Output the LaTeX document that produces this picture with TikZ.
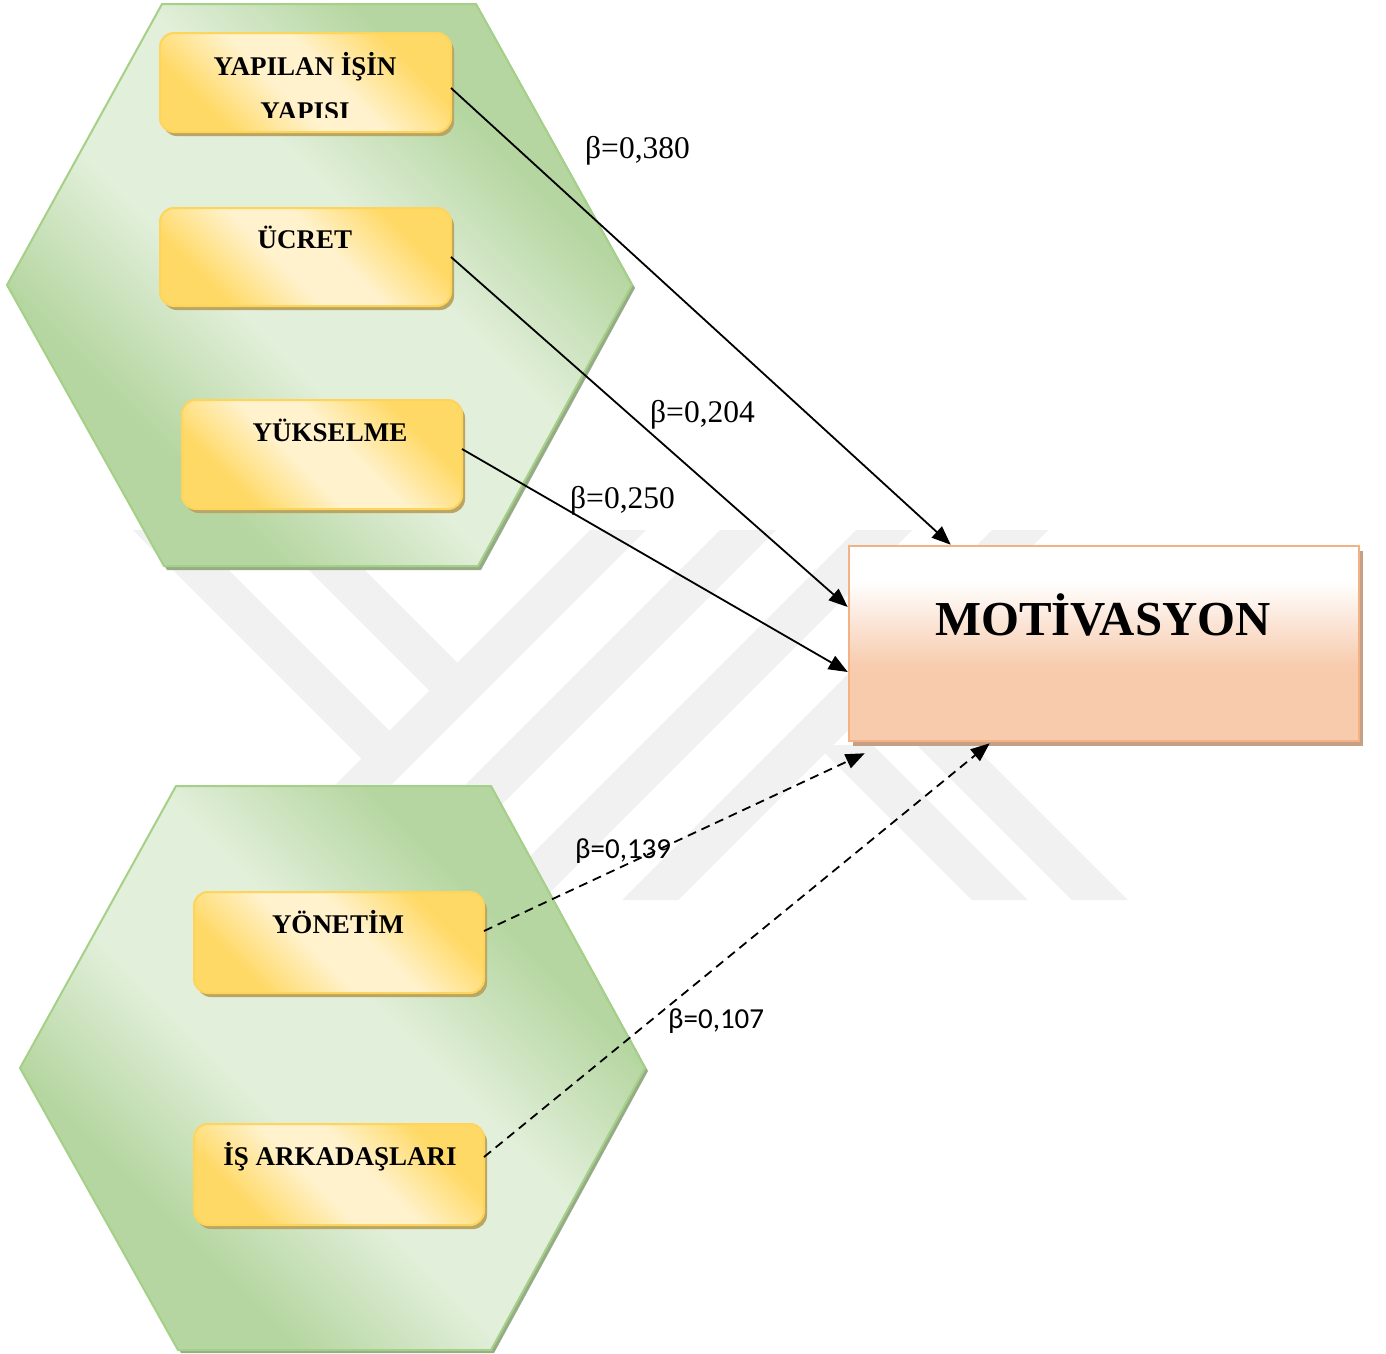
\documentclass[tikz,border=0pt]{standalone}
\usepackage{fontspec}
\setmainfont{Liberation Serif}
\newfontfamily\calibrifont{Carlito}
\usetikzlibrary{arrows.meta,shadows,calc}

\definecolor{gdk}{RGB}{181,214,160}
\definecolor{glt}{RGB}{226,239,218}
\definecolor{gline}{RGB}{165,208,135}
\definecolor{gshadow}{RGB}{150,172,135}
\definecolor{ydk}{RGB}{255,217,102}
\definecolor{ylt}{RGB}{255,242,204}
\definecolor{yline}{RGB}{255,212,90}
\definecolor{yshadow}{RGB}{185,165,100}
\definecolor{pk}{RGB}{247,203,172}
\definecolor{pkl}{RGB}{251,228,213}
\definecolor{pline}{RGB}{244,177,131}
\definecolor{pshadow}{RGB}{196,160,134}
\definecolor{wm}{RGB}{241,241,241}

\pgfdeclarehorizontalshading{greenrefl}{100bp}{color(0bp)=(gdk); color(32bp)=(gdk); color(44bp)=(glt); color(56bp)=(glt); color(68bp)=(gdk); color(100bp)=(gdk)}
\pgfdeclarehorizontalshading{yellowrefl}{100bp}{color(0bp)=(ydk); color(35bp)=(ydk); color(46bp)=(ylt); color(54bp)=(ylt); color(65bp)=(ydk); color(100bp)=(ydk)}
\pgfdeclareverticalshading{peachv}{100bp}{color(0bp)=(pk); color(44bp)=(pk); color(55bp)=(pkl); color(66bp)=(white); color(100bp)=(white)}

\newcommand\bxfont{\fontsize{27}{32}\selectfont\bfseries}
\newcommand\betafont{\fontsize{31.5}{37}\selectfont}
\newcommand\betasans{\calibrifont\fontsize{29}{35}\selectfont}

\tikzset{
  ybox/.style={fill=ylt, draw=none, rounded corners=14pt, inner sep=0pt, outer sep=0pt,
    drop shadow={shadow xshift=3pt, shadow yshift=-4pt, fill=yshadow, opacity=1}},
  yshd/.style={shading=yellowrefl, shading angle=45},
  yborder/.style={draw=yline, line width=2pt, rounded corners=14pt},
  mbox/.style={draw=pline, line width=2.5pt, shade, shading=peachv, inner sep=0pt,
    minimum width=510pt, minimum height=195pt,
    drop shadow={shadow xshift=4pt, shadow yshift=-5pt, fill=pshadow, opacity=1}},
  gshd/.style={shading=greenrefl, shading angle=45},
  hexline/.style={draw=gline, line width=2pt},
  hexshadow/.style={fill=gshadow},
  lbl/.style={anchor=base, inner sep=0pt, font=\bxfont},
  blbl/.style={anchor=base west, inner sep=0pt, font=\betafont},
  slbl/.style={anchor=base west, inner sep=0pt, font=\betasans},
  arr/.style={line width=1.8pt, -{Triangle[length=19pt,width=15pt]}},
  darr/.style={arr, dash pattern=on 9pt off 6pt},
  mark wm/.style={fill=wm}
}

\begin{document}
\begin{tikzpicture}[x=1pt,y=-1pt]
\useasboundingbox (0,0) rectangle (1386,1353);
\fill[white] (0,0) rectangle (1386,1353);

% watermark
\fill[mark wm] (590,530) -- (646,530) -- (276,900) -- (220,900) -- cycle;
\fill[mark wm] (720,530) -- (776,530) -- (406,900) -- (350,900) -- cycle;
\fill[mark wm] (856,530) -- (912,530) -- (542,900) -- (486,900) -- cycle;
\fill[mark wm] (992,530) -- (1048,530) -- (678,900) -- (622,900) -- cycle;
\fill[mark wm] (133,530) -- (189,530) -- (403.5,744.5) -- (375.5,772.5) -- cycle;
\fill[mark wm] (269,530) -- (325,530) -- (471.5,676.5) -- (443.5,704.5) -- cycle;
\fill[mark wm] (817,745) -- (873,745) -- (1028,900) -- (972,900) -- cycle;
\fill[mark wm] (917,745) -- (973,745) -- (1128,900) -- (1072,900) -- cycle;

% upper hexagon
\fill[hexshadow] (165,8) -- (479,8) -- (635,288) -- (481,570) -- (167,570) -- (10,288) -- cycle;
\begin{scope}
  \clip (162,4) -- (476,4) -- (632,285) -- (478,566) -- (164,566) -- (7,285) -- cycle;
  \shade[gshd] (7,-27.5) rectangle (632,597.5);
\end{scope}
\draw[hexline] (162,4) -- (476,4) -- (632,285) -- (478,566) -- (164,566) -- (7,285) -- cycle;

% lower hexagon
\fill[hexshadow] (179,790) -- (494,790) -- (648,1071) -- (494,1353) -- (181,1353) -- (23,1071) -- cycle;
\begin{scope}
  \clip (176,786) -- (491,786) -- (645,1068) -- (491,1350) -- (178,1350) -- (20,1068) -- cycle;
  \shade[gshd] (20,755.5) rectangle (645,1380.5);
\end{scope}
\draw[hexline] (176,786) -- (491,786) -- (645,1068) -- (491,1350) -- (178,1350) -- (20,1068) -- cycle;

% factor boxes
\node[ybox, minimum width=291pt, minimum height=99pt] (b1) at (305.5,82.5) {};
\node[ybox, minimum width=291pt, minimum height=98pt] (b2) at (305.5,257) {};
\node[ybox, minimum width=280pt, minimum height=109pt] (b3) at (322,454.5) {};
\node[ybox, minimum width=290pt, minimum height=101pt] (b4) at (339,942.5) {};
\node[ybox, minimum width=290pt, minimum height=101pt] (b5) at (339,1174.5) {};

\begin{scope}
  \clip[rounded corners=14pt] (b1.south west) rectangle (b1.north east);
  \shade[yshd] ($(b1.center)+(-145.5,-145.5)$) rectangle ($(b1.center)+(145.5,145.5)$);
\end{scope}
\begin{scope}
  \clip[rounded corners=14pt] (b2.south west) rectangle (b2.north east);
  \shade[yshd] ($(b2.center)+(-145.5,-145.5)$) rectangle ($(b2.center)+(145.5,145.5)$);
\end{scope}
\begin{scope}
  \clip[rounded corners=14pt] (b3.south west) rectangle (b3.north east);
  \shade[yshd] ($(b3.center)+(-140,-140)$) rectangle ($(b3.center)+(140,140)$);
\end{scope}
\begin{scope}
  \clip[rounded corners=14pt] (b4.south west) rectangle (b4.north east);
  \shade[yshd] ($(b4.center)+(-145,-145)$) rectangle ($(b4.center)+(145,145)$);
\end{scope}
\begin{scope}
  \clip[rounded corners=14pt] (b5.south west) rectangle (b5.north east);
  \shade[yshd] ($(b5.center)+(-145,-145)$) rectangle ($(b5.center)+(145,145)$);
\end{scope}
\draw[yborder] (b1.south west) rectangle (b1.north east);
\draw[yborder] (b2.south west) rectangle (b2.north east);
\draw[yborder] (b3.south west) rectangle (b3.north east);
\draw[yborder] (b4.south west) rectangle (b4.north east);
\draw[yborder] (b5.south west) rectangle (b5.north east);

\node[lbl] (t1) at (305,75) {YAPILAN İŞİN};
\begin{scope}
  \clip (150,20) rectangle (460,117);
  \node[lbl] (t1b) at (305,120) {YAPISI};
\end{scope}
\node[lbl] (t2) at (305,248) {ÜCRET};
\node[lbl] (t3) at (330,441) {YÜKSELME};
\node[lbl] (t4) at (338,933) {YÖNETİM};
\node[lbl] (t5) at (340,1165) {İŞ ARKADAŞLARI};

% motivation box
\node[mbox] (m) at (1104,643.5) {};
\node[anchor=base, inner sep=0pt, font=\fontsize{48.8}{58}\selectfont\bfseries] (mt) at (1103,635) {MOTİVASYON};

% connectors
\draw[arr] ($(b1.east)+(0,5.5)$) -- ($(m.north west)+(103,0)$);
\draw[arr] (b2.east) -- ($(m.west)+(0,-36.5)$);
\draw[arr] ($(b3.east)+(0,-5.5)$) -- ($(m.west)+(0,28.5)$);
\draw[darr] ($(b4.east)+(0,-11.5)$) -- ($(m.south west)+(17,11)$);
\draw[darr] ($(b5.east)+(0,-17.5)$) -- ($(m.south west)+(142,1)$);

% coefficients
\node[blbl] (l1) at (585,158) {β=0,380};
\node[blbl] (l2) at (650,422) {β=0,204};
\node[blbl] (l3) at (570,508) {β=0,250};
\node[slbl] (l4) at (575,858) {β=0,139};
\node[slbl] (l5) at (668,1028) {β=0,107};
\end{tikzpicture}
\end{document}
